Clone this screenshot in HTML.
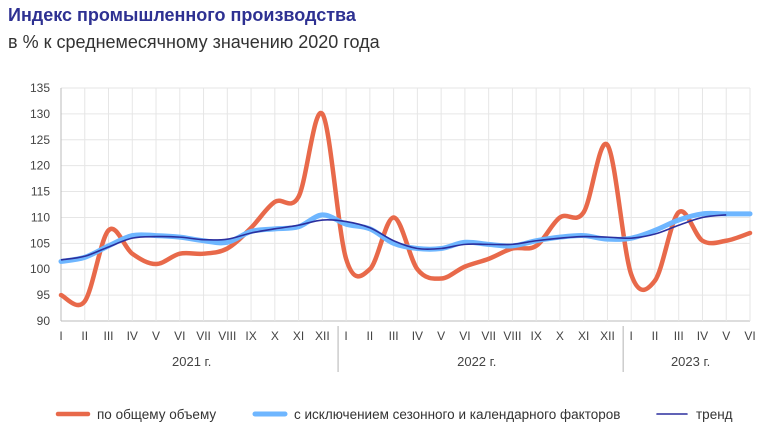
<!DOCTYPE html>
<html><head><meta charset="utf-8"><style>
body{margin:0;background:#fff;font-family:"Liberation Sans",sans-serif;}
#wrap{position:relative;width:771px;height:431px;overflow:hidden}
.t{position:absolute;left:8px;top:5px;font-size:18px;font-weight:bold;color:#2E3192}
.s{position:absolute;left:8px;top:32px;font-size:18px;color:#333}
</style></head><body>
<div id="wrap">
<div class="t">Индекс промышленного производства</div>
<div class="s">в % к среднемесячному значению 2020 года</div>
<svg id="c" width="771" height="431" style="position:absolute;left:0;top:0"></svg>
</div>
<script>
const months=["I","II","III","IV","V","VI","VII","VIII","IX","X","XI","XII","I","II","III","IV","V","VI","VII","VIII","IX","X","XI","XII","I","II","III","IV","V","VI"];
const years=[{label:"2021 г.",from:0,to:11},{label:"2022 г.",from:12,to:23},{label:"2023 г.",from:24,to:29}];
const yTicks=[90,95,100,105,110,115,120,125,130,135];
const overall=[95,93.8,107.5,103,101,103,103,104,108,113,114,130,102,100,110,100,98.2,100.5,102,104,104.5,110,111,124,99,97.8,111,105.5,105.5,107];
const seasonal=[101.5,102.3,104.5,106.5,106.5,106.2,105.5,105.2,107.3,107.8,108.2,110.5,108.7,107.8,105,104,104,105.2,104.8,104.5,105.5,106.2,106.5,105.8,106,107.5,109.5,110.7,110.7,110.7];
const trend=[101.8,102.5,104.3,106,106.3,106.2,105.7,105.8,107,107.8,108.5,109.5,109.2,108,105.5,104,104,104.8,104.8,104.8,105.5,106,106.3,106.2,106,106.8,108.5,110,110.5];
const svg=document.getElementById('c'),NS="http://www.w3.org/2000/svg";
const X0=61,X1=750,Y0=321,Y1=88;
const x=i=>X0+i*(X1-X0)/(months.length-1);
const y=v=>Y0-(v-90)*(Y0-Y1)/45;
function el(t,a,p){const e=document.createElementNS(NS,t);for(const k in a)e.setAttribute(k,a[k]);(p||svg).appendChild(e);return e;}
const g=el('g',{});


yTicks.forEach(v=>{
  el('line',{x1:X0,x2:X1,y1:y(v),y2:y(v),stroke:v==90?'#bbb':'#e6e6e6','stroke-width':1},g);
  const t=el('text',{x:50,y:y(v)+4,'text-anchor':'end','font-size':12,fill:'#444'});
  t.textContent=v;
  
  
});
months.forEach((m,i)=>{
  el('line',{x1:x(i),x2:x(i),y1:Y1,y2:Y0,stroke:i==0?'#bbb':'#e6e6e6','stroke-width':1},g);
  const t=el('text',{x:x(i),y:340,'text-anchor':'middle','font-size':12,fill:'#444'});
  t.textContent=m;
  
  
});
years.forEach((yr,k)=>{
  const t=el('text',{x:(x(yr.from)+x(yr.to))/2,y:366,'text-anchor':'middle','font-size':13,fill:'#444'});
  t.textContent=yr.label;
  
  
  if(k>0){const s=el('line',{x1:x(yr.from)-8,x2:x(yr.from)-8,y1:326,y2:372,stroke:'#ccc','stroke-width':1.5});
  
  }
});
function path(vals){
  const p=vals.map((v,i)=>[x(i),y(v)]);let d="M"+p[0][0]+","+p[0][1];
  for(let i=0;i<p.length-1;i++){const a=p[i-1]||p[i],b=p[i],c=p[i+1],e=p[i+2]||c;
    d+=` C${b[0]+(c[0]-a[0])/6},${b[1]+(c[1]-a[1])/6} ${c[0]-(e[0]-b[0])/6},${c[1]-(e[1]-b[1])/6} ${c[0]},${c[1]}`;}
  return d;}
const p1=el('path',{d:path(overall),fill:'none',stroke:'#E8694A','stroke-width':4.5,'stroke-linecap':'round'});


const p2=el('path',{d:path(seasonal),fill:'none',stroke:'#6EB6FF','stroke-width':5,'stroke-linecap':'round'});


const p3=el('path',{d:path(trend),fill:'none',stroke:'#2B2F9E','stroke-width':1.6});


const leg=[["по общему объему","#E8694A",4.5,58],["с исключением сезонного и калeндарного факторов".replace('e','е'),"#6EB6FF",5,255],["тренд","#2B2F9E",1.6,657]];
leg.forEach(([txt,c,w,lx])=>{
  const gg=el('g',{});
  
  
  el('line',{x1:lx,x2:lx+30,y1:414,y2:414,stroke:c,'stroke-width':w,'stroke-linecap':'round'},gg);
  const t=el('text',{x:lx+39,y:419,'font-size':13.5,fill:'#333'},gg);t.textContent=txt;
});
</script>
</body></html>
